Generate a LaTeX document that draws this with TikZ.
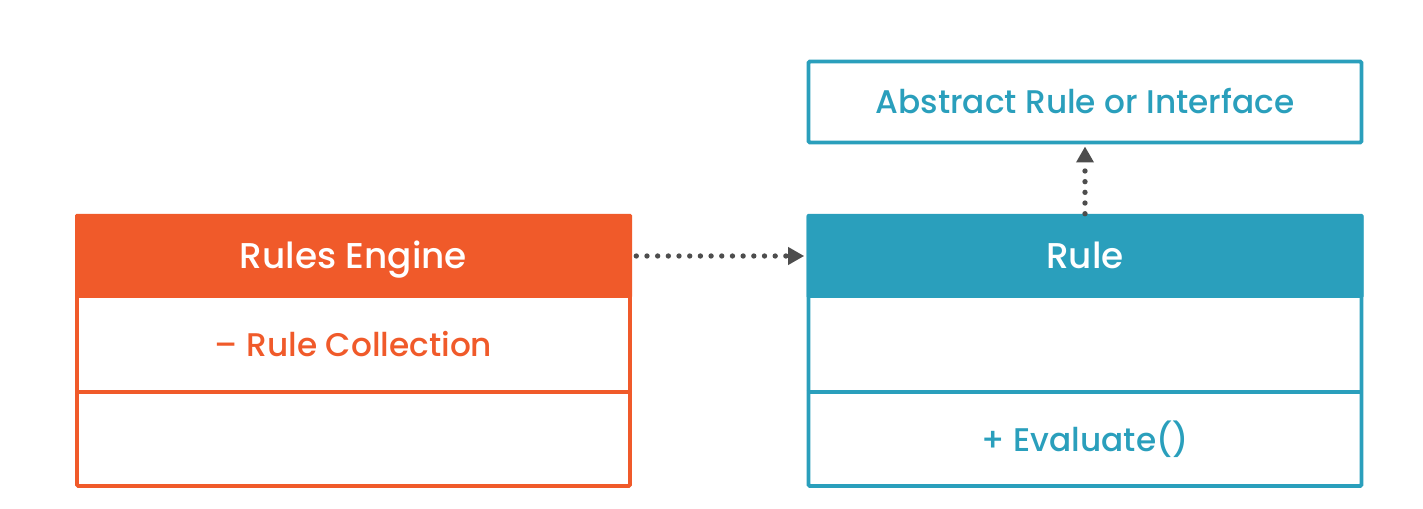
\documentclass[tikz,border=0pt]{standalone}
\usepackage{fontspec}
\setmainfont{Poppins}[UprightFont={* Medium}]
\usetikzlibrary{arrows.meta}

\definecolor{engineorange}{HTML}{F05A2A}
\definecolor{ruleteal}{HTML}{2A9FBC}
\definecolor{arrowgray}{HTML}{4D4D4D}

\tikzset{
  umlbox/.style={draw=#1, line width=2.8pt, rounded corners=1pt, inner sep=0pt},
  umlhead/.style={fill=#1, text=white, rounded corners=1pt, inner sep=0pt, minimum width=13.925cm, minimum height=2.1cm,
    font=\fontsize{25.5}{30}\selectfont, text height=17.9pt, text depth=0pt},
  divider/.style={draw=#1, line width=2.8pt},
  depends/.style={arrowgray, line width=3.8pt, line cap=round, dash pattern=on 0pt off 7.6pt,
    -{Triangle[length=0.4cm, width=0.42cm]}},
  label/.style={font=\fontsize{23.3}{28}\selectfont, text height=16.3pt, text depth=0pt}
}

\begin{document}
\begin{tikzpicture}
      \useasboundingbox (0, 0) rectangle (35.575, 12.7);

      % rules engine
      \node[umlbox=engineorange, minimum width=13.825cm, minimum height=6.75cm] (engine) at (8.8375, 3.925) {};
      \node[umlhead=engineorange] (engineHead) at (8.8375, 6.3) {Rules Engine};
      \coordinate (engineCut) at (8.8375, 2.9);
      \draw[divider=engineorange] (engine.west |- engineCut) -- (engine.east |- engineCut);
      \node[label, text=engineorange] (engineAttr) at (8.8375, 4.075) {– Rule Collection};

      % rule
      \node[umlbox=ruleteal, minimum width=13.825cm, minimum height=6.75cm] (rule) at (27.125, 3.925) {};
      \node[umlhead=ruleteal] (ruleHead) at (27.125, 6.3) {Rule};
      \coordinate (ruleCut) at (27.125, 2.9);
      \draw[divider=ruleteal] (rule.west |- ruleCut) -- (rule.east |- ruleCut);
      \node[label, text=ruleteal] (ruleOps) at (27.125, 1.7) {+ Evaluate()};

      % abstract rule
      \node[umlbox=ruleteal, minimum width=13.825cm, minimum height=2.025cm, label, text=ruleteal] (abstract) at (27.125, 10.15) {Abstract Rule or Interface};

      \draw[depends, shorten <=0.1cm, shorten >=0.05cm] (engineHead.east) -- (ruleHead.west);
      \draw[depends, shorten >=0.05cm] (ruleHead.north) -- (abstract.south);
\end{tikzpicture}
\end{document}
